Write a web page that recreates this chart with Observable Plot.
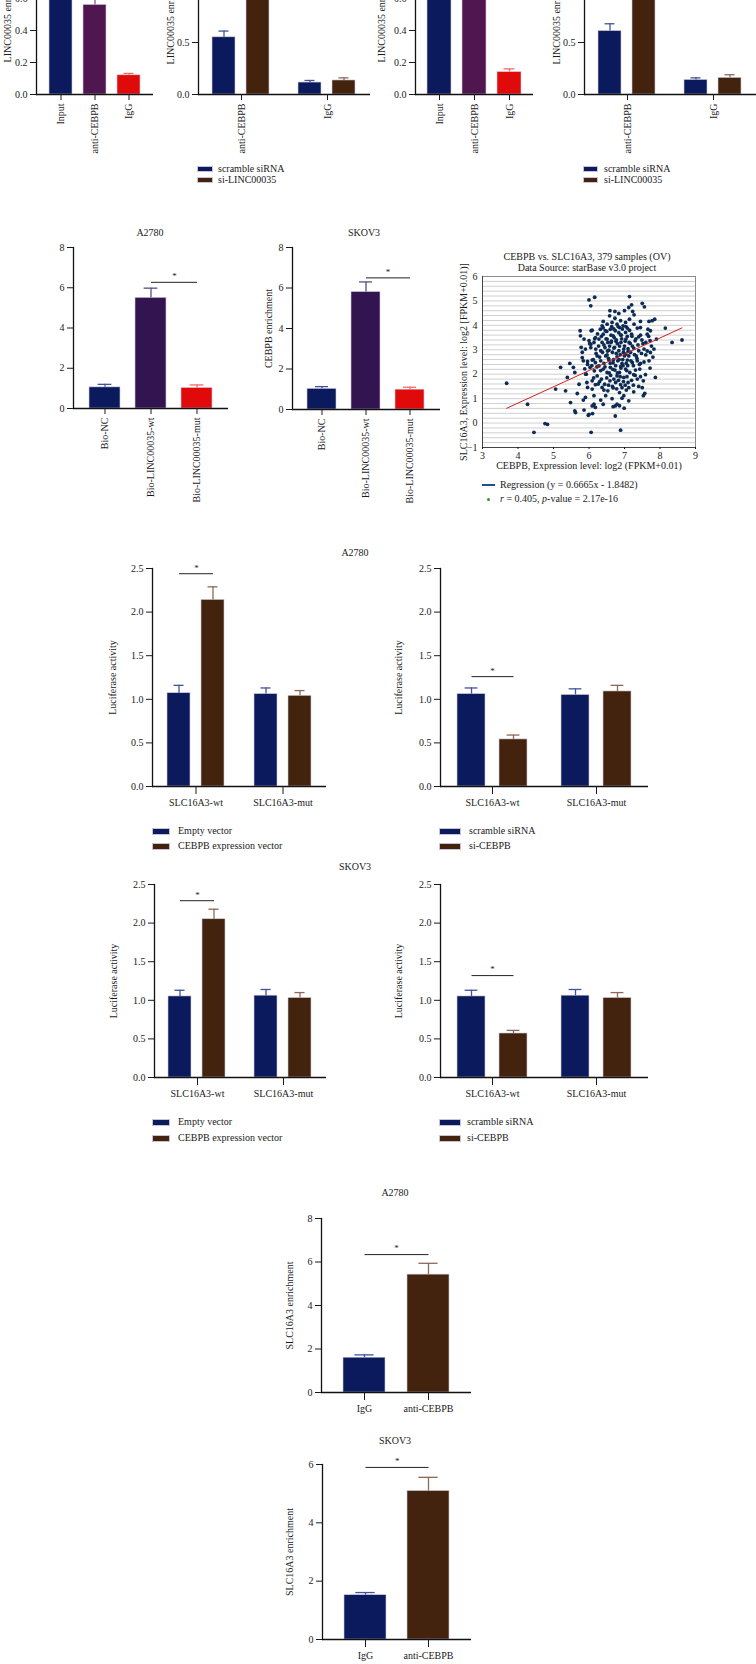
<!DOCTYPE html>
<html><head><meta charset="utf-8">
<script src="https://cdn.jsdelivr.net/npm/d3@7"></script>
<script src="https://cdn.jsdelivr.net/npm/@observablehq/plot@0.6"></script>
<style>
html,body{margin:0;padding:0;background:#fff;}
#root{position:relative;width:756px;height:1664px;overflow:hidden;background:#fff;font-family:"Liberation Serif","Times New Roman",serif;color:#1a1a1a;}
.lbl{position:absolute;white-space:nowrap;font-size:10px;line-height:1;}
</style></head><body><div id="root"></div><script>
// ---------------- DATA ----------------
// Row 1: RIP (LINC00035 enrichment)
const ripCats = ["Input", "anti-CEBPB", "IgG"];
const ripA2780 = [1.0, 0.56, 0.12];
const ripA2780Err = [0.05, 0.05, 0.012];
const ripSKOV3 = [1.0, 0.74, 0.14];
const ripSKOV3Err = [0.05, 0.05, 0.02];
const ripSiGroups = ["anti-CEBPB", "IgG"];
const ripSiSeries = ["scramble siRNA", "si-LINC00035"];
const ripSiA2780 = [[0.55, 0.115], [1.2, 0.135]];
const ripSiA2780Err = [[0.06, 0.02], [0.08, 0.025]];
const ripSiSKOV3 = [[0.61, 0.14], [1.25, 0.16]];
const ripSiSKOV3Err = [[0.07, 0.02], [0.08, 0.03]];
// Row 2: RNA pull-down (CEBPB enrichment)
const bioCats = ["Bio-NC", "Bio-LINC00035-wt", "Bio-LINC00035-mut"];
const bioA2780 = [1.05, 5.5, 1.02];
const bioA2780Err = [0.15, 0.48, 0.15];
const bioSKOV3 = [1.02, 5.8, 0.98];
const bioSKOV3Err = [0.11, 0.5, 0.12];
// Scatter: CEBPB vs SLC16A3 (log2 FPKM)
const regCoef = [0.6665, -1.8482];
const scatterPoints = [
[3.68,1.63],[4.27,0.77],[4.45,-0.38],[4.76,-0.02],[4.83,-0.05],[5.06,1.39],[5.2,2.28],[5.34,1.32],[5.39,1.87],[5.46,2.44],[5.48,0.84],[5.56,2.28],[5.6,2.07],[5.6,0.5],[5.62,0.43],[5.67,1.21],[5.72,1.59],[5.75,3.78],[5.76,3.57],[5.78,3.1],[5.81,2.9],[5.81,2.68],[5.84,2.55],[5.84,0.94],[5.86,0.53],[5.88,2.22],[5.91,2.0],[5.94,1.66],[5.96,1.46],[5.98,0.32],[6.0,0.36],[6.0,5.04],[6.05,4.8],[6.16,5.15],[6.06,3.78],[6.05,3.23],[6.06,-0.38],[6.1,0.39],[6.09,1.39],[6.14,1.12],[6.14,0.77],[6.18,2.48],
[7.14,5.18],[7.5,4.9],[7.2,4.84],[7.56,4.76],[7.12,4.73],
[6.59,4.6],[6.73,4.57],[6.84,4.49],[7.0,4.6],[7.23,4.57],[7.27,4.43],[6.4,4.16],[6.58,4.39],[6.73,4.29],
[6.89,4.19],[7.03,4.12],[7.14,4.25],[7.27,4.05],[7.45,4.16],[7.69,4.16],[7.78,4.19],[7.85,4.25],[6.37,3.98],[6.51,4.05],[6.65,4.12],[6.79,4.05],[6.96,3.98],
[6.09,3.8],[6.32,3.84],[6.46,3.78],[6.6,3.84],[6.74,3.78],[6.86,3.91],[7.08,3.89],[7.36,3.89],[7.45,3.91],[7.66,3.84],[7.73,3.78],[8.15,3.89],[6.18,3.5],[6.4,3.64],[6.68,3.57],[6.89,3.61],[7.03,3.71],[7.2,3.64],[7.4,3.53],[7.64,3.64],
[5.86,3.44],[6.0,3.37],[6.14,3.3],[6.28,3.44],[6.37,3.3],[6.51,3.44],[6.62,3.3],[6.77,3.4],[6.9,3.3],[7.04,3.44],[7.16,3.26],[7.3,3.37],[7.49,3.4],[7.72,3.37],[7.9,3.44],[8.34,3.3],[8.62,3.4],
[5.9,3.03],[6.05,3.09],[6.19,3.03],[6.33,2.96],[6.45,3.09],[6.56,2.98],[6.7,3.07],[6.84,2.96],[6.98,3.03],[7.1,2.93],[7.26,3.07],[7.4,2.96],[7.55,3.03],[7.83,3.03],[6.23,2.75],[6.51,2.79],[6.79,2.71],[7.03,2.82],[7.33,2.75],[7.6,2.79],[7.73,2.89],
[5.96,2.52],[6.09,2.58],[6.33,2.55],[6.42,2.44],[6.56,2.58],[6.68,2.47],[6.81,2.55],[6.93,2.44],[7.08,2.58],[7.22,2.48],[7.36,2.55],[7.45,2.44],[7.69,2.55],[6.28,2.34],[6.6,2.28],[6.89,2.31],
[6.03,2.28],[6.15,2.14],[6.4,2.21],[6.51,2.07],[6.73,2.17],[6.86,2.07],[7.03,2.21],[7.15,2.07],[7.31,2.17],[7.43,2.21],[5.92,2.0],[6.23,1.93],[6.79,1.93],[6.98,1.87],[7.26,1.98],[7.59,1.98],[5.96,2.4],
[6.09,1.73],[6.3,1.7],[6.44,1.59],[6.59,1.73],[6.75,1.66],[6.89,1.57],[7.1,1.66],[7.36,1.8],[7.53,1.73],[7.87,1.87],
[6.37,1.46],[6.53,1.32],[6.68,1.44],[6.86,1.25],[7.05,1.35],[7.26,1.28],[7.53,1.12],[7.57,1.21],[6.47,1.12],[6.98,1.12],[6.18,1.57],
[6.33,0.94],[6.4,0.77],[6.65,1.0],[6.93,1.02],[7.12,0.91],[6.79,0.77],[6.09,0.7],[6.74,0.7],[5.9,1.05],
[6.18,0.64],[6.68,0.67],[6.86,0.71],[6.99,0.61],[6.74,0.29],[6.89,-0.29],
[6.35,3.55],[6.42,3.2],[6.5,3.75],[6.55,2.65],[6.62,3.6],[6.66,2.9],[6.71,3.5],[6.75,2.35],[6.8,3.25],[6.84,3.7],[6.88,2.8],[6.92,3.45],[6.95,2.6],[7.0,3.15],[7.05,2.45],[7.08,3.55],[7.12,2.75],[6.27,3.15],[6.3,2.7],[6.38,2.9],[6.45,2.3],[6.48,3.45],[6.52,2.95],[6.58,3.15],[6.6,2.45],[6.64,3.95],[6.69,2.6],[6.72,3.1],[6.77,2.85],[6.82,3.95],[6.86,3.15],[6.9,2.25],[6.94,3.85],[6.97,2.9],[7.02,3.35],[7.06,2.15],[7.1,3.05],[7.14,3.8],[7.18,2.55],[7.22,3.15],[7.25,2.35],[6.2,2.85],[6.24,3.65],[6.33,2.15],[6.4,3.9],[6.47,2.75],[6.53,3.3],[6.57,2.05],[6.63,3.35],[6.67,2.2],[6.7,3.85],[6.76,3.35],[6.8,2.05],[6.85,2.6],[6.91,3.6],[6.96,2.35],[7.0,2.75],[7.04,3.95],[7.09,2.35],[7.13,3.3],[7.17,2.9],[7.21,3.55],[7.28,2.8],[7.32,3.45],[7.35,2.65],[7.38,3.2],[7.42,2.4],[7.45,3.6],[7.48,2.85],[7.52,3.25],[7.55,2.5],[7.6,3.3],[7.64,2.95],[7.68,3.55],[7.72,2.25],[7.76,3.15],[7.8,2.7],[6.12,2.6],[6.16,3.45],[6.08,2.35],[6.02,3.25],[6.13,1.85],[6.22,2.3],[6.26,1.6],[6.35,1.8],[6.42,1.35],[6.5,1.85],[6.55,1.55],[6.61,1.95],[6.66,1.5],[6.7,1.8],[6.78,1.4],[6.83,1.75],[6.88,1.9],[6.93,1.45],[6.97,1.7],[7.02,1.55],[7.07,1.9],[7.12,1.45],[7.2,1.75],[7.25,1.55],[7.3,1.95],[7.4,1.5],[7.45,1.9],[7.5,1.45]
];
// Rows 3-4: luciferase activity
const lucGroups = ["SLC16A3-wt", "SLC16A3-mut"];
const lucOeSeries = ["Empty vector", "CEBPB expression vector"];
const lucSiSeries = ["scramble siRNA", "si-CEBPB"];
const lucOeA2780 = [[1.07, 1.06], [2.14, 1.04]];
const lucOeA2780Err = [[0.09, 0.07], [0.15, 0.06]];
const lucSiA2780 = [[1.06, 1.05], [0.54, 1.09]];
const lucSiA2780Err = [[0.07, 0.07], [0.05, 0.07]];
const lucOeSKOV3 = [[1.05, 1.06], [2.05, 1.03]];
const lucOeSKOV3Err = [[0.08, 0.08], [0.13, 0.07]];
const lucSiSKOV3 = [[1.05, 1.06], [0.57, 1.03]];
const lucSiSKOV3Err = [[0.08, 0.08], [0.04, 0.07]];
// Rows 5-6: ChIP (SLC16A3 enrichment)
const chipCats = ["IgG", "anti-CEBPB"];
const chipA2780 = [1.6, 5.42];
const chipA2780Err = [0.13, 0.52];
const chipSKOV3 = [1.52, 5.09];
const chipSKOV3Err = [0.09, 0.47];

// ---------------- STYLE ----------------
const FONT = '"Liberation Serif","Times New Roman",serif';
const NAVY = "#0b1a5c", NAVY_E = "#41539a";
const BROWN = "#43230d", BROWN_E = "#8b6b58";
const PURPLE = "#501650", PURPLE_E = "#8a5a8a";
const DPURPLE = "#321450", DPURPLE_E = "#5e4a80";
const RED = "#e00a0a", RED_E = "#f06a6a";
const f1 = d3.format(".1f"), f0 = d3.format("d");

const root = document.getElementById("root");
function put(node, left, top) {
  node.style.position = "absolute"; node.style.left = left + "px"; node.style.top = top + "px";
  root.appendChild(node); return node;
}
function label(str, x, y, anchor) {
  const d = document.createElement("div");
  d.className = "lbl"; d.innerHTML = str;
  d.style.left = x + "px"; d.style.top = y + "px";
  d.style.transform = anchor === "start" ? "translate(0,-50%)" : "translate(-50%,-50%)";
  root.appendChild(d);
}
function legend(x, ys, names, colors, sw, sh, tx) {
  names.forEach((n, i) => {
    const s = document.createElement("div");
    s.style.cssText = `position:absolute;left:${x}px;top:${ys[i] - sh / 2}px;width:${sw}px;height:${sh}px;background:${colors[i]};border:0.6px solid #c8c2d8;box-sizing:border-box`;
    root.appendChild(s);
    label(n, tx, ys[i], "start");
  });
}

function barPanel(c) {
  const ML = 50, MR = 4, MT = 4, MB = 120;
  const fw = c.right - c.left, fh = c.base - c.top;
  const grouped = !!c.groups;
  const rows = [];
  if (grouped) c.groups.forEach((g, gi) => c.series.forEach((s, si) =>
    rows.push({g, s, v: c.vals[si][gi], e: c.errs[si][gi], fill: c.colors[si], ec: c.errColors[si]})));
  else c.cats.forEach((s, i) => rows.push({s, v: c.vals[i], e: c.errs[i], fill: c.colors[i], ec: c.errColors[i]}));
  const fx = grouped ? "g" : undefined;
  const n = grouped ? c.series.length : c.cats.length;
  const span = grouped ? fw / c.groups.length : fw;
  const step = span / (n - c.pi + 2 * c.po);
  const bw = step * (1 - c.pi);
  const marks = [
    Plot.barY(rows, {x: "s", y: "v", fx, fill: "fill", stroke: "#d2cedf", strokeWidth: 0.6}),
    Plot.ruleX(rows, {x: "s", fx, y1: "v", y2: d => d.v + d.e, stroke: "ec", strokeWidth: 1.3}),
    Plot.tickY(rows, {x: "s", fx, y: d => d.v + d.e, stroke: "ec", strokeWidth: 1.3, insetLeft: bw * 0.27, insetRight: bw * 0.27}),
    Plot.ruleY([0], {stroke: "#111", strokeWidth: 1.3}),
    Plot.frame({anchor: "left", facetAnchor: "left", stroke: "#111", strokeWidth: 1.3}),
    Plot.axisY({ticks: c.yticks, tickFormat: c.fmt, tickSize: 6, tickPadding: 3, label: null, fontSize: 10})
  ];
  const xo = {tickSize: c.rot ? 6 : 8, tickPadding: c.rot ? 3 : 4, tickRotate: c.rot || 0, label: null, fontSize: 10};
  marks.push(grouped ? Plot.axisFx({anchor: "bottom", ...xo}) : Plot.axisX(xo));
  if (c.ylabel) marks.push(Plot.text([{g: grouped ? c.groups[0] : null, t: c.ylabel}],
    {fx, text: "t", frameAnchor: "left", textAnchor: "middle", rotate: -90, dx: -(c.left - c.ylx), fontSize: 10}));
  if (c.sig) {
    marks.push(Plot.link([c.sig], {x1: "a", x2: "b", y1: "y", y2: "y", fx, stroke: "#222", strokeWidth: 1}));
    marks.push(Plot.text([c.sig], {x: "a", y: "y", fx, text: () => "*", dx: step / 2, dy: -6, fontSize: 9}));
  }
  const opts = {
    width: fw + ML + MR, height: fh + MT + MB,
    marginLeft: ML, marginRight: MR, marginTop: MT, marginBottom: MB,
    style: {fontFamily: FONT, fontSize: "10px", background: "none", overflow: "visible", color: "#1a1a1a"},
    x: Object.assign({domain: grouped ? c.series : c.cats, paddingInner: c.pi, paddingOuter: c.po}, grouped ? {axis: null} : {}),
    y: {domain: [0, c.ymax]},
    color: {type: "identity"},
    marks
  };
  if (grouped) opts.fx = {domain: c.groups, padding: 0};
  put(Plot.plot(opts), c.left - ML, c.top - MT);
}

// ---------------- ROW 1 ----------------
barPanel({left: 36, right: 153, base: 94, top: -66, ymax: 1.0, yticks: [0, 0.2, 0.4, 0.6, 0.8, 1.0], fmt: f1,
  cats: ripCats, vals: ripA2780, errs: ripA2780Err, colors: [NAVY, PURPLE, RED], errColors: [NAVY_E, PURPLE_E, RED_E],
  pi: 0.314, po: 0.33, rot: -90, ylabel: "LINC00035 enrichment", ylx: 7});
barPanel({left: 197, right: 370, base: 94, top: -62, ymax: 1.5, yticks: [0, 0.5, 1.0, 1.5], fmt: f1,
  groups: ripSiGroups, series: ripSiSeries, vals: ripSiA2780, errs: ripSiA2780Err, colors: [NAVY, BROWN], errColors: [NAVY_E, BROWN_E],
  pi: 0.314, po: 0.39, rot: -90, ylabel: "LINC00035 enrichment", ylx: 169});
barPanel({left: 415, right: 533, base: 94, top: -66, ymax: 1.0, yticks: [0, 0.2, 0.4, 0.6, 0.8, 1.0], fmt: f1,
  cats: ripCats, vals: ripSKOV3, errs: ripSKOV3Err, colors: [NAVY, PURPLE, RED], errColors: [NAVY_E, PURPLE_E, RED_E],
  pi: 0.314, po: 0.33, rot: -90, ylabel: "LINC00035 enrichment", ylx: 381});
barPanel({left: 583, right: 756, base: 94, top: -62, ymax: 1.5, yticks: [0, 0.5, 1.0, 1.5], fmt: f1,
  groups: ripSiGroups, series: ripSiSeries, vals: ripSiSKOV3, errs: ripSiSKOV3Err, colors: [NAVY, BROWN], errColors: [NAVY_E, BROWN_E],
  pi: 0.314, po: 0.39, rot: -90, ylabel: "LINC00035 enrichment", ylx: 555});
legend(197, [169, 180], ripSiSeries, [NAVY, BROWN], 16, 6, 218);
legend(583, [169, 180], ripSiSeries, [NAVY, BROWN], 15, 6, 604);

// ---------------- ROW 2 ----------------
label("A2780", 150, 233);
label("SKOV3", 364, 233);
barPanel({left: 73, right: 228, base: 408, top: 247, ymax: 8, yticks: [0, 2, 4, 6, 8], fmt: f0,
  cats: bioCats, vals: bioA2780, errs: bioA2780Err, colors: [NAVY, DPURPLE, RED], errColors: [NAVY_E, DPURPLE_E, RED_E],
  pi: 0.32, po: 0.31, rot: -90, sig: {a: bioCats[1], b: bioCats[2], y: 6.27}});
barPanel({left: 292, right: 440, base: 409, top: 247, ymax: 8, yticks: [0, 2, 4, 6, 8], fmt: f0,
  cats: bioCats, vals: bioSKOV3, errs: bioSKOV3Err, colors: [NAVY, DPURPLE, RED], errColors: [NAVY_E, DPURPLE_E, RED_E],
  pi: 0.33, po: 0.34, rot: -90, ylabel: "CEBPB enrichment", ylx: 268, sig: {a: bioCats[1], b: bioCats[2], y: 6.5}});

// Scatter
(function () {
  const left = 482, right = 695, top = 276, bottom = 447, ML = 34, MR = 6, MT = 4, MB = 34;
  const pts = scatterPoints.map(([x, y]) => ({x, y}));
  const reg = d3.extent(pts, d => d.x).map(x => ({x, y: regCoef[0] * x + regCoef[1]}));
  const grid = d3.range(-5, 31).map(i => i / 5);
  const svg = Plot.plot({
    width: right - left + ML + MR, height: bottom - top + MT + MB,
    marginLeft: ML, marginRight: MR, marginTop: MT, marginBottom: MB,
    style: {fontFamily: FONT, fontSize: "10px", background: "none", overflow: "visible", color: "#1a1a1a"},
    x: {domain: [3, 9]}, y: {domain: [-1, 6]},
    marks: [
      Plot.ruleY(grid, {stroke: "#c4c4c4", strokeWidth: 0.8}),
      Plot.frame({stroke: "#8a8a8a"}),
      Plot.ruleX([3], {stroke: "#444"}),
      Plot.ruleY([-1], {stroke: "#444"}),
      Plot.dot(pts, {x: "x", y: "y", r: 1.9, fill: "#0d2c55"}),
      Plot.line(reg, {x: "x", y: "y", stroke: "#d42020", strokeWidth: 1}),
      Plot.axisX({ticks: [3, 4, 5, 6, 7, 8, 9], tickFormat: f0, tickSize: 2, tickPadding: 2, label: null, fontSize: 10}),
      Plot.axisY({ticks: [-1, 0, 1, 2, 3, 4, 5, 6], tickFormat: f0, tickSize: 0, tickPadding: 5, label: null, fontSize: 10}),
      Plot.text(["CEBPB, Expression level: log2 (FPKM+0.01)"], {frameAnchor: "bottom", textAnchor: "middle", dy: 21, fontSize: 10}),
      Plot.text(["SLC16A3, Expression level: log2 [FPKM+0.01)]"], {frameAnchor: "left", textAnchor: "middle", rotate: -90, dx: -19, fontSize: 10})
    ]
  });
  put(svg, left - ML, top - MT);
})();
label("CEBPB vs. SLC16A3, 379 samples (OV)", 587, 257);
label("Data Source: starBase v3.0 project", 587, 268);
(function () {
  const ln = document.createElement("div");
  ln.style.cssText = "position:absolute;left:482px;top:484px;width:13px;height:1.6px;background:#1f4f8f";
  root.appendChild(ln);
  label("Regression (y = 0.6665x - 1.8482)", 500, 485, "start");
  const dt = document.createElement("div");
  dt.style.cssText = "position:absolute;left:487px;top:497.5px;width:3px;height:3px;border-radius:50%;background:#3a8a3a";
  root.appendChild(dt);
  label("<i>r</i> = 0.405, <i>p</i>-value = 2.17e-16", 500, 499, "start");
})();

// ---------------- ROWS 3-4: Luciferase ----------------
label("A2780", 355, 553);
barPanel({left: 152, right: 326, base: 786, top: 568, ymax: 2.5, yticks: [0, 0.5, 1, 1.5, 2, 2.5], fmt: f1,
  groups: lucGroups, series: lucOeSeries, vals: lucOeA2780, errs: lucOeA2780Err, colors: [NAVY, BROWN], errColors: [NAVY_E, BROWN_E],
  pi: 0.314, po: 0.4, ylabel: "Luciferase activity", ylx: 112, sig: {g: lucGroups[0], a: lucOeSeries[0], b: lucOeSeries[1], y: 2.44}});
barPanel({left: 440, right: 648, base: 786, top: 568, ymax: 2.5, yticks: [0, 0.5, 1, 1.5, 2, 2.5], fmt: f1,
  groups: lucGroups, series: lucSiSeries, vals: lucSiA2780, errs: lucSiA2780Err, colors: [NAVY, BROWN], errColors: [NAVY_E, BROWN_E],
  pi: 0.33, po: 0.4, ylabel: "Luciferase activity", ylx: 398, sig: {g: lucGroups[0], a: lucSiSeries[0], b: lucSiSeries[1], y: 1.26}});
legend(152, [831, 846], lucOeSeries, [NAVY, BROWN], 18, 7, 178);
legend(439, [831, 846], lucSiSeries, [NAVY, BROWN], 22, 7, 469);

label("SKOV3", 355, 867);
barPanel({left: 153, right: 326, base: 1077, top: 884, ymax: 2.5, yticks: [0, 0.5, 1, 1.5, 2, 2.5], fmt: f1,
  groups: lucGroups, series: lucOeSeries, vals: lucOeSKOV3, errs: lucOeSKOV3Err, colors: [NAVY, BROWN], errColors: [NAVY_E, BROWN_E],
  pi: 0.314, po: 0.4, ylabel: "Luciferase activity", ylx: 112, sig: {g: lucGroups[0], a: lucOeSeries[0], b: lucOeSeries[1], y: 2.29}});
barPanel({left: 440, right: 648, base: 1077, top: 884, ymax: 2.5, yticks: [0, 0.5, 1, 1.5, 2, 2.5], fmt: f1,
  groups: lucGroups, series: lucSiSeries, vals: lucSiSKOV3, errs: lucSiSKOV3Err, colors: [NAVY, BROWN], errColors: [NAVY_E, BROWN_E],
  pi: 0.33, po: 0.4, ylabel: "Luciferase activity", ylx: 398, sig: {g: lucGroups[0], a: lucSiSeries[0], b: lucSiSeries[1], y: 1.32}});
legend(152, [1122, 1138], lucOeSeries, [NAVY, BROWN], 18, 7, 178);
legend(439, [1122, 1138], lucSiSeries, [NAVY, BROWN], 22, 7, 467);

// ---------------- ROWS 5-6: ChIP ----------------
label("A2780", 395, 1193);
barPanel({left: 321, right: 471, base: 1392, top: 1218, ymax: 8, yticks: [0, 2, 4, 6, 8], fmt: f0,
  cats: chipCats, vals: chipA2780, errs: chipA2780Err, colors: [NAVY, BROWN], errColors: [NAVY_E, BROWN_E],
  pi: 0.34, po: 0.34, ylabel: "SLC16A3 enrichment", ylx: 289, sig: {a: chipCats[0], b: chipCats[1], y: 6.34}});
label("SKOV3", 395, 1441);
barPanel({left: 322, right: 471, base: 1639, top: 1464, ymax: 6, yticks: [0, 2, 4, 6], fmt: f0,
  cats: chipCats, vals: chipSKOV3, errs: chipSKOV3Err, colors: [NAVY, BROWN], errColors: [NAVY_E, BROWN_E],
  pi: 0.34, po: 0.34, ylabel: "SLC16A3 enrichment", ylx: 289, sig: {a: chipCats[0], b: chipCats[1], y: 5.9}});
</script></body></html>
